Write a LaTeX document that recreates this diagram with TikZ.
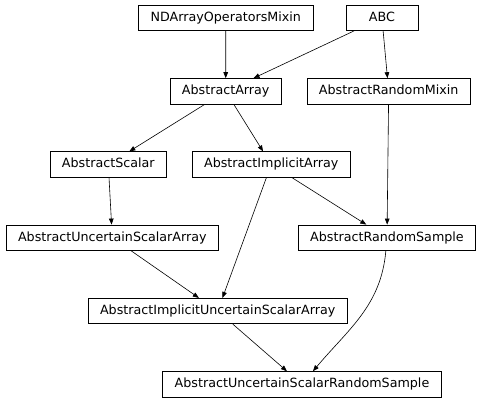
\documentclass[tikz,border=0pt]{standalone}
\usepackage{fontspec}
\setmainfont{DejaVu Sans}
\usetikzlibrary{arrows.meta}
\tikzset{
  cls/.style={draw, line width=0.8pt, inner xsep=12pt, minimum width=72pt,
    minimum height=25.4pt, text height=9.6pt, text depth=2.6pt,
    font=\fontsize{12.7}{15}\selectfont},
  inh/.style={-{Triangle[length=6pt,width=4.6pt]}, line width=0.6pt}
}
\begin{document}
\begin{tikzpicture}[x=1pt, y=-1pt]
\useasboundingbox (0,0) rectangle (482,403);
% classes
\node [cls] (nda) at (225.8,17.8) {NDArrayOperatorsMixin};
\node [cls] (abc) at (381.9,17.8) {ABC};
\node [cls] (aa) at (225.7,91.3) {AbstractArray};
\node [cls] (arm) at (388.7,91.3) {AbstractRandomMixin};
\node [cls] (as) at (108.3,164.5) {AbstractScalar};
\node [cls] (aia) at (271.2,164.5) {AbstractImplicitArray};
\node [cls] (ausa) at (112.3,237.7) {AbstractUncertainScalarArray};
\node [cls] (ars) at (387,237.7) {AbstractRandomSample};
\node [cls] (aiusa) at (217.7,311) {AbstractImplicitUncertainScalarArray};
\node [cls] (ausrs) at (302,384.3) {AbstractUncertainScalarRandomSample};
% inheritance
\draw [inh] (nda) -- (aa);
\draw [inh] (abc) -- (aa);
\draw [inh] (abc) -- (arm);
\draw [inh] (aa) -- (as);
\draw [inh] (aa) -- (aia);
\draw [inh] (as) -- (ausa);
\draw [inh] (aia) -- (ars);
\draw [inh] (arm) -- (ars);
\draw [inh] (aia) -- (aiusa);
\draw [inh] (ausa) -- (aiusa);
\draw [inh] (aiusa) -- (ausrs);
\draw [inh] (ars) to [out=-95, in=50] (ausrs);
\end{tikzpicture}
\end{document}
